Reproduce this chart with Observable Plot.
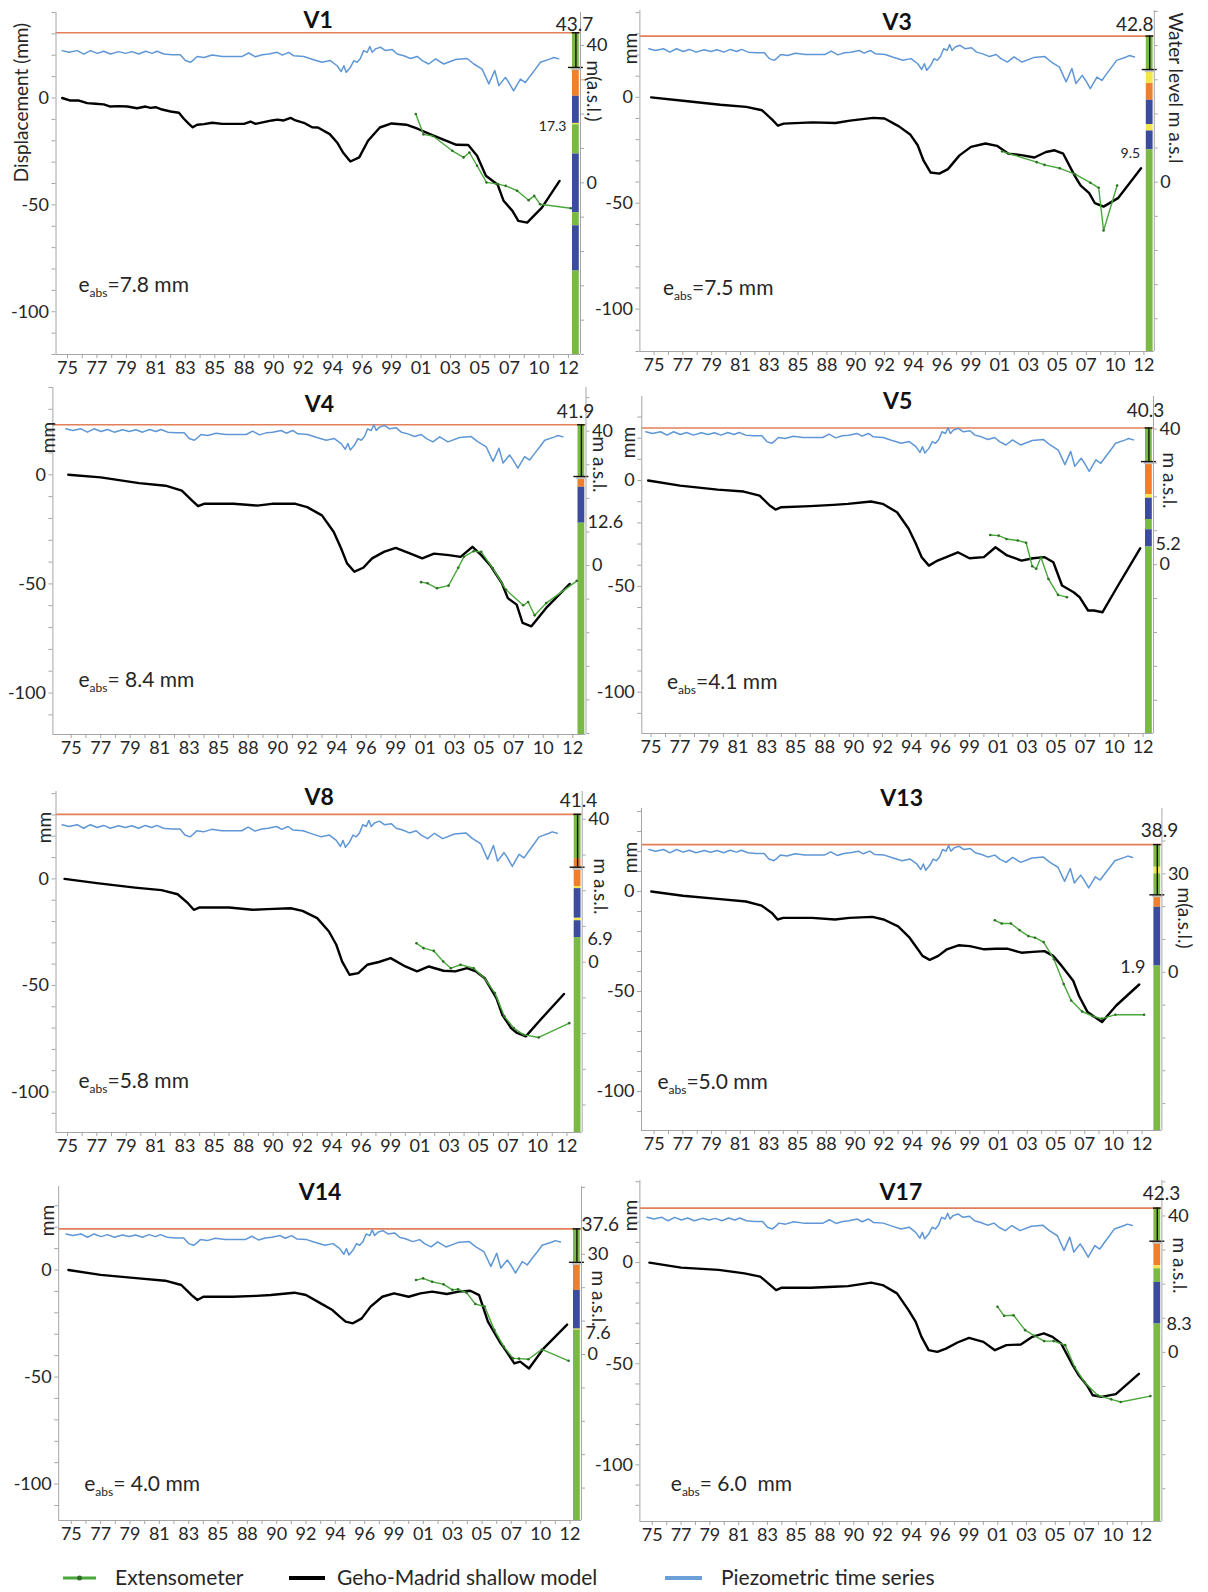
<!DOCTYPE html>
<html><head><meta charset="utf-8">
<script src="https://cdn.jsdelivr.net/npm/d3@7"></script>
<script src="https://cdn.jsdelivr.net/npm/@observablehq/plot@0.6"></script>
<style>
body{margin:0;background:#fff;}
#root{position:relative;width:1208px;height:1592px;overflow:hidden;background:#fff;font-family:Lato,'Open Sans',sans-serif;color:#262626;}
</style></head>
<body><div id="root"></div>
<script>
// ---------- DATA ----------
const panelNames = ["V1","V3","V4","V5","V8","V13","V14","V17"];
const yearLabels = ["75","77","79","81","83","85","88","90","92","94","96","99","01","03","05","07","10","12"];

// Geho-Madrid shallow model: time (label index) and displacement (mm)
const modelTV1 = [-0.18,0.1,0.39,0.67,0.95,1.23,1.46,1.74,2.03,2.36,2.65,2.82,2.99,3.21,3.5,3.78,3.95,4.12,4.25,4.4,4.63,4.91,5.25,5.7,5.99,6.21,6.38,6.66,6.94,7.12,7.34,7.57,7.74,8.02,8.3,8.5,8.9,9.15,9.35,9.6,9.9,10.2,10.6,11.0,11.5,11.9,12.3,12.8,13.2,13.6,13.9,14.2,14.6,14.8,15.1,15.3,15.6,16.1,16.7];
const modelV1 = [0,-1.2,-1.2,-2.4,-2.7,-3.0,-4.0,-3.8,-4.0,-4.8,-4.0,-4.6,-4.3,-5.4,-6.3,-6.9,-9.7,-12.1,-13.7,-12.5,-12.2,-11.6,-12.1,-12.1,-12.1,-11.0,-12.1,-11.3,-10.5,-10.1,-10.5,-9.3,-10.5,-11.6,-13.7,-13.8,-16.9,-20.8,-25.5,-29.7,-27.8,-20,-13.8,-11.9,-12.5,-14.5,-16.9,-19.7,-21.9,-22,-27,-36.4,-40.6,-48.1,-52.8,-57.5,-58.3,-51.3,-38.8];
const modelT = [-0.1,1.0,2.3,3.2,3.75,4.1,4.3,4.5,5.5,6.3,6.8,7.6,8.0,8.5,8.9,9.15,9.35,9.6,9.9,10.2,10.6,11.0,11.5,11.9,12.3,12.8,13.2,13.6,13.9,14.2,14.6,14.8,15.1,15.3,15.6,16.1,16.9];
const modelV3 = [0,-1.6,-3.5,-4.5,-6.1,-10.5,-13.4,-12.4,-11.8,-12.1,-11,-9.7,-10,-13.7,-17.7,-22.6,-29.8,-35.5,-36,-33.9,-27.4,-23.4,-21.8,-22.9,-26.6,-27.4,-28.4,-25.8,-25,-26.6,-37.1,-41.6,-45.2,-50,-51.6,-47.6,-33.5];
const modelV4 = [0,-1.2,-3.8,-5,-7.3,-11.8,-14.4,-13.3,-13.3,-14.1,-13.3,-13.3,-14.8,-18.6,-26.2,-33.8,-40.6,-44.4,-42.6,-38.3,-35.3,-33.5,-36.1,-38.3,-36.1,-36.8,-37.6,-33,-36.8,-41.4,-49.7,-56.5,-59.5,-67.9,-69.4,-61,-50];
const modelV5 = [0,-2.4,-4.3,-5.2,-7.1,-11.8,-13.7,-12.6,-12.1,-11.5,-11,-9.9,-11,-15,-22.8,-29.9,-36.2,-40.2,-37.8,-36.2,-33.9,-36.7,-36.2,-31.5,-35.4,-37.8,-36.7,-36.2,-38.6,-49.6,-52.8,-55,-61.4,-61.4,-62.2,-50.4,-32];
const modelV8 = [0,-2,-4.1,-5.3,-7.2,-11.4,-14.5,-13.4,-13.4,-14.5,-14.2,-13.8,-15,-18.4,-24.7,-30.9,-38.8,-45,-44.2,-40.3,-39,-37.2,-41.1,-43.4,-41.1,-43.1,-43.4,-41.9,-43.4,-46.6,-55.9,-63.8,-70,-72.3,-73.9,-66.1,-54];
const modelV13 = [0,-2.1,-3.8,-5,-7.1,-10.7,-14,-13.2,-13.2,-14,-13.2,-12.7,-14,-17.4,-23.1,-28.1,-32.2,-34.2,-32.2,-28.9,-26.9,-27.3,-28.9,-28.6,-28.6,-30.6,-30.2,-29.8,-32.2,-37.2,-44.6,-52.1,-60.3,-62.3,-65.3,-57,-46.5];
const modelV14 = [0,-2.3,-3.9,-5,-7,-11.7,-14,-12.5,-12.5,-12.1,-11.7,-10.6,-11.7,-15.6,-18.7,-21.8,-24.1,-24.9,-22.6,-17.1,-12.5,-10.9,-12.5,-10.9,-10.1,-11.2,-10.1,-9.7,-11.7,-24.1,-33.5,-37.4,-43.6,-42.8,-46,-36.6,-25.5];
const modelV17 = [0,-2.5,-3.6,-5.3,-6.9,-11.1,-13.6,-12.4,-12.4,-11.9,-11.6,-9.9,-11.1,-15.2,-23.5,-29.3,-36.7,-43.3,-44.1,-42.5,-39.5,-37.2,-39.2,-43.3,-40.8,-40.5,-36.7,-35,-36.7,-40,-50.7,-55.4,-60.7,-65.6,-66.4,-65,-55];

// Extensometer: [time index, displacement mm]
const extV1 = [[11.82,-7.5],[12.08,-17],[12.4,-17.8],[13.06,-24.7],[13.44,-27.8],[13.64,-25.5],[13.9,-31.7],[14.22,-39.5],[14.61,-40.3],[14.87,-41.1],[15.26,-43.4],[15.65,-47.8],[15.84,-45.8],[16.04,-49.7],[17.08,-51.6]];
const extV3 = [[12.08,-25.5],[13.28,-30.6],[13.55,-31.9],[14.08,-33.5],[14.61,-36.3],[15.14,-40.3],[15.43,-42.7],[15.6,-62.9],[16.07,-41.6]];
const extV4 = [[11.86,-49.2],[12.08,-49.7],[12.4,-52],[12.79,-50.8],[13.12,-42.6],[13.31,-37.6],[13.64,-35],[13.9,-35.3],[14.29,-42.9],[14.74,-52.7],[15.32,-59.8],[15.49,-58.3],[15.71,-64.4],[16.1,-58.8],[17.14,-48.6]];
const extV5 = [[11.72,-25.7],[12.01,-26],[12.28,-27.6],[12.67,-28.3],[12.96,-29.4],[13.17,-40.5],[13.31,-41.7],[13.47,-36.2],[13.73,-46.5],[14.06,-54],[14.37,-55.1]];
const extV8 = [[11.88,-30.2],[12.12,-32.5],[12.47,-33.8],[12.79,-38.8],[13.05,-41.9],[13.38,-40.3],[13.83,-41.9],[14.19,-46.6],[14.55,-53.6],[14.87,-64.5],[15.19,-70],[15.52,-73.1],[16.04,-74.4],[17.08,-67.7]];
const extV13 = [[11.87,-14.4],[12.11,-16],[12.43,-16],[12.73,-19.3],[13.04,-22.3],[13.27,-23.1],[13.57,-25.3],[13.93,-33.9],[14.27,-46.3],[14.53,-54.5],[14.91,-60],[15.27,-62.3],[15.6,-63.6],[16.07,-61.6],[17.07,-61.6]];
const extV14 = [[11.75,-4.7],[11.99,-3.9],[12.3,-5.5],[12.69,-6.7],[12.99,-9.3],[13.18,-9],[13.47,-10.6],[13.77,-15.9],[14.09,-17.1],[14.42,-28],[14.74,-35.8],[15.06,-41.3],[15.26,-41.4],[15.58,-41.7],[16.04,-37.1],[16.95,-42.4]];
const extV17 = [[11.99,-21.8],[12.22,-26.3],[12.55,-26],[12.95,-33.4],[13.28,-36.2],[13.61,-38.8],[13.94,-38.8],[14.34,-40.8],[14.67,-51.6],[15,-59],[15.47,-65.6],[15.94,-67.6],[16.27,-68.9],[17.3,-66]];

// Piezometric time series (m a.s.l., read on V1) and level offset of each panel's piezometer
const piezoT = [-0.18,0.05,0.33,0.55,0.78,1.01,1.23,1.46,1.74,1.97,2.19,2.42,2.65,2.87,3.04,3.27,3.55,3.83,4.0,4.17,4.29,4.4,4.63,4.91,5.25,5.93,6.15,6.38,6.61,6.83,7.12,7.29,7.51,7.68,8.02,8.3,8.64,8.92,9.15,9.29,9.38,9.46,9.6,9.72,9.83,9.94,10.05,10.17,10.26,10.34,10.45,10.62,10.79,11.02,11.19,11.41,11.64,11.87,12.04,12.26,12.49,12.77,13.17,13.56,13.79,14.07,14.3,14.5,14.64,14.86,14.98,15.14,15.37,15.54,15.71,15.88,16.05,16.39,16.5,16.67];
const piezoLevel = [38.5,38.0,38.5,37.5,38.5,37.7,38.3,37.5,38.2,37.7,38.2,37.5,38.3,37.7,38.3,37.5,37.3,37.3,35.6,35.1,35.9,36.8,36.5,37.2,36.8,36.8,37.8,36.7,37.3,37.5,38.0,37.2,38.0,37.0,36.8,36.0,35.1,35.6,34.1,32.4,34.1,32.2,33.6,35.6,35.1,36.2,38.5,38.0,39.7,38.0,39.0,39.5,38.5,38.8,37.5,37.0,36.2,36.8,35.6,34.6,36.1,34.6,35.9,36.2,34.6,33.1,28.8,32.7,28.3,30.7,29.2,26.8,30.2,29.2,31.2,33.1,35.1,36.1,36.5,36.1];
const piezoShift = [0, 0.6, 2.2, 0.7, 0, -1.1, -2.4, 1.1];

// Ground level and water level (m a.s.l.)
const groundLevel = [43.7, 42.8, 41.9, 40.3, 41.4, 38.9, 37.6, 42.3];
const waterLevel = [33.6, 33.0, 26.5, 30.4, 26.6, 23.6, 27.6, 32.6];
const boundaryLabel = [17.3, 9.5, 12.6, 5.2, 6.9, 1.9, 7.6, 8.3];

// Stratigraphic columns: [top, bottom (null = base), lithology code]
const layersV1 = [[43.7,33.6,"G"],[33.6,25.2,"O"],[25.2,17.3,"B"],[17.3,16.9,"Y"],[16.9,8.4,"G"],[8.4,-8.7,"B"],[-8.7,-12.5,"G"],[-12.5,-25.7,"B"],[-25.7,null,"G"]];
const layersV3 = [[42.8,33,"G"],[33,28.9,"Y"],[28.9,24,"O"],[24,16.9,"B"],[16.9,15,"Y"],[15,9.5,"B"],[9.5,null,"G"]];
const layersV4 = [[41.9,26.5,"G"],[26.5,23.3,"O"],[23.3,12.6,"B"],[12.6,null,"G"]];
const layersV5 = [[40.3,30.4,"G"],[30.4,20.6,"O"],[20.6,19.6,"Y"],[19.6,13.3,"B"],[13.3,10.3,"G"],[10.3,5.2,"B"],[5.2,null,"G"]];
const layersV8 = [[41.4,29,"G"],[29,21.2,"O"],[21.2,20.6,"Y"],[20.6,12.3,"B"],[12.3,11.6,"Y"],[11.6,6.9,"B"],[6.9,null,"G"]];
const layersV13 = [[38.9,32,"G"],[32,30,"Y"],[30,23.6,"G"],[23.6,19.8,"O"],[19.8,1.9,"B"],[1.9,null,"G"]];
const layersV14 = [[37.6,27.6,"G"],[27.6,19.2,"O"],[19.2,7.6,"B"],[7.6,7.3,"Y"],[7.3,null,"G"]];
const layersV17 = [[42.3,32.6,"G"],[32.6,25.4,"O"],[25.4,24.5,"Y"],[24.5,20.5,"G"],[20.5,8.3,"B"],[8.3,null,"G"]];

const eabsText = ["=7.8 mm","=7.5 mm","= 8.4 mm","=4.1 mm","=5.8 mm","=5.0 mm","= 4.0 mm","= 6.0  mm"];
const rightTickLabels = [[40,0],[0],[40,0],[40,0],[40,0],[30,0],[30,0],[40,0]];
const rightTitles = ["m(a.s.l.)","Water level m a.s.l","m a.s.l.","m a.s.l.","m a.s.l.","m(a.s.l.)","m a.s.l.","m a.s.l."];
const leftTitles = ["Displacement (mm)","mm","mm","mm","mm","mm","mm","mm"];
const legendLabels = ["Extensometer","Geho-Madrid shallow model","Piezometric time series"];

const modelTimes = [modelTV1, modelT, modelT, modelT, modelT, modelT, modelT, modelT];
const models = [modelV1,modelV3,modelV4,modelV5,modelV8,modelV13,modelV14,modelV17];
const exts = [extV1,extV3,extV4,extV5,extV8,extV13,extV14,extV17];
const layersAll = [layersV1,layersV3,layersV4,layersV5,layersV8,layersV13,layersV14,layersV17];

// ---------- LAYOUT / STYLE ----------
const FONT = "Lato, 'Open Sans', sans-serif";
const TXT = "#262626", AXIS = "#a6a6a6";
const ORANGE = "#e27f58", BLUE = "#5f97d6", GREEN = "#49a83a", DOT = "#2f6e26";
const LITHO = {G:"#79b944", B:"#3b4b9d", O:"#f07f2d", Y:"#f2e64a"};
const layout = [
 {col:0, x0:55.5, x1:580, y0:12, y1:354, xd:[-0.39,17.41], yd:[-120,40], rd:[-50,49.6], titleDy:8, ylab:[21,102], rtitle:[593,60], glab:[574,24,"middle"], blab:[566,126,"end",14], eabs:[78.5,285]},
 {col:1, x0:639.4, x1:1153.8, y0:10, y1:351, xd:[-0.49,17.36], yd:[-120,41], rd:[-49.6,50.3], titleDy:12, ylab:[630.6,48], rtitle:[1175,12], glab:[1153,24,"end"], blab:[1139.6,152.7,"end",14], eabs:[663,288]},
 {col:0, x0:52.4, x1:585.5, y0:387, y1:734, xd:[-0.62,17.45], yd:[-119,40], rd:[-50.3,53], titleDy:17, ylab:[48,437], rtitle:[599,436], glab:[575,411,"middle"], blab:[587,521.7,"start",18], eabs:[78.5,680]},
 {col:1, x0:641.3, x1:1153, y0:396, y1:733, xd:[-0.32,17.36], yd:[-119.5,39.7], rd:[-49.8,49.6], titleDy:5, ylab:[628.7,442], rtitle:[1169,452], glab:[1145,410,"middle"], blab:[1155,544,"start",18], eabs:[667,681.7]},
 {col:0, x0:55.5, x1:581.7, y0:791, y1:1132, xd:[-0.39,17.52], yd:[-119,41], rd:[-47.7,47.8], titleDy:6, ylab:[44,827], rtitle:[600,858], glab:[578,800,"middle"], blab:[587,939,"start",18], eabs:[78.5,1081]},
 {col:1, x0:641, x1:1161.4, y0:808, y1:1130, xd:[-0.44,17.69], yd:[-119.5,41.5], rd:[-48.2,49.9], titleDy:-10, ylab:[630.6,857], rtitle:[1184,887], glab:[1159,830,"middle"], blab:[1145,966.7,"end",18], eabs:[657.4,1081.7]},
 {col:0, x0:58.2, x1:581, y0:1186, y1:1520, xd:[-0.43,17.39], yd:[-117,39], rd:[-49.7,50.3], titleDy:6, ylab:[47.8,1220], rtitle:[598,1270], glab:[581,1224,"start"], blab:[585,1332.7,"start",18], eabs:[84.2,1483.3]},
 {col:1, x0:639.4, x1:1161.4, y0:1180, y1:1521, xd:[-0.43,17.7], yd:[-128,40.6], rd:[-49.6,50.4], titleDy:12, ylab:[630.6,1215], rtitle:[1179,1237], glab:[1161,1193,"middle"], blab:[1166,1324,"start",18], eabs:[670.8,1484]}
];

const root = document.getElementById("root");

function drawPanel(i) {
  const L = layout[i];
  const W = 604, left = L.col * 604;
  const mt = 40, mb = 34;
  const top = L.y0 - mt;
  const H = (L.y1 - L.y0) + mt + mb;
  const [r0, r1] = L.rd, [d0, d1] = L.yd, [xa, xb] = L.xd;
  const m2mm = m => d0 + (m - r0) / (r1 - r0) * (d1 - d0);
  const mm2m = v => r0 + (v - d0) / (d1 - d0) * (r1 - r0);
  const px2x = px => xa + (px - L.x0) / (L.x1 - L.x0) * (xb - xa);
  const colA = px2x(L.x1 - 8), colB = px2x(L.x1 - 1.2), colC = (colA + colB) / 2;
  const capW = px2x(L.x0 + 7.5) - xa;
  const g = groundLevel[i], wl = waterLevel[i];

  const layers = layersAll[i].map(([a, b, c]) => ({top: a, bottom: b === null ? r0 : b, code: c}));
  const model = modelTimes[i].map((t, k) => ({t, d: models[i][k]}));
  const piezo = piezoT.map((t, k) => ({t, d: m2mm(piezoLevel[k] + piezoShift[i])}));
  const ext = exts[i].map(([t, d]) => ({t, d}));

  const leftTicks = d3.range(-120, 41, 10).filter(v => v >= d0 - 0.01 && v <= d1 + 0.01);
  const rightTicks = d3.range(Math.ceil(r0 / 10) * 10, r1 + 0.01, 10).map(m2mm);
  const xTicks = d3.range(0, 17.01, 0.5);

  const at = (px, py, text, opts) => Plot.text([text], {
    frameAnchor: "top-left", dx: px - L.x0, dy: py - L.y0, text: d => d,
    lineAnchor: "middle", fill: TXT, fontSize: 18, ...opts
  });

  const marks = [
    Plot.ruleY([m2mm(g)], {stroke: ORANGE, strokeWidth: 1.6}),
    Plot.rect(layers, {x1: colA, x2: colB, y1: d => m2mm(d.top), y2: d => m2mm(d.bottom), fill: d => LITHO[d.code]}),
    Plot.rect([wl], {x1: colA - 0.04, x2: colB + 0.04, y1: d => m2mm(d), y2: d => m2mm(d - 0.9), fill: "#c4c4c4"}),
    Plot.ruleX([colC], {y1: m2mm(g), y2: m2mm(wl), stroke: "#111", strokeWidth: 1.4}),
    Plot.ruleY([m2mm(wl)], {x1: colC - capW, x2: colC + capW, stroke: "#111", strokeWidth: 1.4}),
    Plot.ruleY([m2mm(g)], {x1: colC - capW * 0.5, x2: colC + capW * 0.5, stroke: "#111", strokeWidth: 1.4}),
    Plot.line(piezo, {x: "t", y: "d", stroke: BLUE, strokeWidth: 1.5}),
    Plot.line(model, {x: "t", y: "d", stroke: "#000", strokeWidth: 2.4, curve: "linear"}),
    Plot.line(ext, {x: "t", y: "d", stroke: GREEN, strokeWidth: 1.4}),
    Plot.dot(ext, {x: "t", y: "d", r: 1.3, fill: DOT, stroke: null}),
    Plot.ruleX([xa], {stroke: AXIS}),
    Plot.ruleX([xb], {stroke: AXIS}),
    Plot.ruleY([d0], {stroke: AXIS}),
    Plot.axisX(xTicks, {tickFormat: d => Number.isInteger(d) ? yearLabels[d] : "", tickSize: 4, tickPadding: 3,
      fontSize: 18, stroke: AXIS, fill: TXT, label: null}),
    Plot.axisY(leftTicks, {anchor: "left", tickFormat: d => (d % 50 === 0 ? String(d) : ""), tickSize: 4, tickPadding: 3,
      fontSize: 18, stroke: AXIS, fill: TXT, label: null}),
    Plot.axisY(rightTicks, {anchor: "right", tickFormat: v => { const m = Math.round(mm2m(v)); return rightTickLabels[i].includes(m) ? String(m) : ""; },
      tickSize: 3, tickPadding: 3, fontSize: 18, stroke: AXIS, fill: TXT, label: null}),
    at(L.x0 + (L.x1 - L.x0) / 2, L.y0 + L.titleDy, panelNames[i], {textAnchor: "middle", fontWeight: "bold", fontSize: 23, fill: "#111"}),
    at(L.ylab[0], L.ylab[1], leftTitles[i], {textAnchor: "middle", rotate: -90, fontSize: 19}),
    at(L.rtitle[0], L.rtitle[1], rightTitles[i], {textAnchor: "start", rotate: 90, fontSize: 19}),
    at(L.glab[0], L.glab[1], g.toFixed(1), {textAnchor: L.glab[2], fontSize: 19}),
    at(L.blab[0], L.blab[1], boundaryLabel[i].toFixed(1), {textAnchor: L.blab[2], fontSize: L.blab[3]})
  ];

  const chart = Plot.plot({
    width: W, height: H,
    marginLeft: L.x0 - left, marginRight: left + W - L.x1, marginTop: mt, marginBottom: mb,
    x: {domain: L.xd, label: null},
    y: {domain: L.yd, label: null},
    style: {background: "transparent", overflow: "visible", fontFamily: FONT, color: TXT},
    marks
  });
  chart.style.position = "absolute";
  chart.style.left = left + "px";
  chart.style.top = top + "px";
  chart.style.maxWidth = "none";

  // e_abs annotation with subscript
  const t = d3.select(chart).append("text")
    .attr("x", L.eabs[0] - left).attr("y", L.eabs[1] - top).attr("dy", "0.35em")
    .attr("text-anchor", "start")
    .attr("font-size", 21).attr("fill", TXT).attr("font-family", FONT);
  t.append("tspan").text("e");
  t.append("tspan").attr("font-size", 12).attr("dy", 5).text("abs");
  t.append("tspan").attr("dy", -5).text(eabsText[i]);

  root.appendChild(chart);
}

for (let i = 0; i < panelNames.length; i++) drawPanel(i);

// ---------- LEGEND ----------
const legendItems = [
  {swatch: [63, 96], text: 115, color: GREEN, w: 3, marker: true},
  {swatch: [289, 325], text: 337, color: "#000", w: 4, marker: false},
  {swatch: [665, 702], text: 721, color: "#6a9fd8", w: 4, marker: false}
];
const lg = d3.select(root).append("svg")
  .attr("width", 1208).attr("height", 40)
  .style("position", "absolute").style("left", "0px").style("top", "1558px");
legendItems.forEach((it, k) => {
  lg.append("line").attr("x1", it.swatch[0]).attr("x2", it.swatch[1]).attr("y1", 20).attr("y2", 20)
    .attr("stroke", it.color).attr("stroke-width", it.w);
  if (it.marker) lg.append("circle").attr("cx", (it.swatch[0] + it.swatch[1]) / 2).attr("cy", 20).attr("r", 2.5).attr("fill", DOT);
  lg.append("text").attr("x", it.text).attr("y", 20).attr("dy", "0.35em")
    .attr("font-size", 21).attr("font-family", FONT).attr("fill", TXT).text(legendLabels[k]);
});
</script>
</body></html>
